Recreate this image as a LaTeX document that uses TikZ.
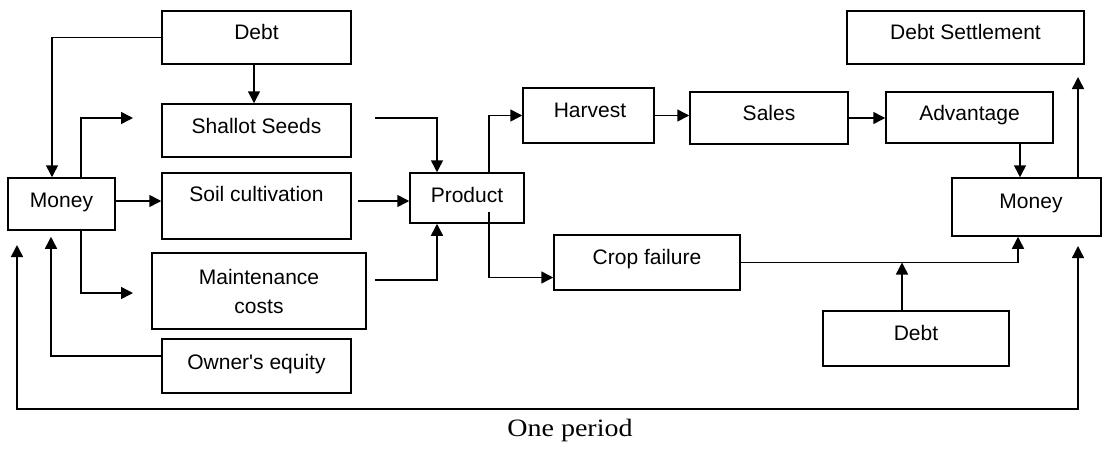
\documentclass[tikz,border=0pt]{standalone}
\usepackage{fontspec}
\setsansfont{Liberation Sans}
\newfontfamily\periodfont{Liberation Serif}
\usetikzlibrary{arrows.meta}
\begin{document}
\begin{tikzpicture}[x=1pt,y=-1pt,
  every node/.style={font=\sffamily\fontsize{21}{29}\selectfont},
  box/.style={draw, line width=1.5pt, inner sep=0pt},
  txt/.style={text height=15pt, text depth=3pt, inner sep=0pt, align=center},
  arr/.style={line width=1.5pt, -{Triangle[length=12pt,width=12pt]}},
  darr/.style={line width=1.5pt, {Triangle[length=12pt,width=12pt]}-{Triangle[length=12pt,width=12pt]}},
  ]
\useasboundingbox (0,0) rectangle (1102,448);

% boxes
\node[box, minimum width=189pt, minimum height=53pt, label={[txt,yshift=4.5pt]center:Debt}] (debt1) at (256.5,37.5) {};
\node[box, minimum width=189pt, minimum height=53pt, label={[txt,yshift=3.5pt]center:Shallot Seeds}] (shallot) at (256.5,130.5) {};
\node[box, minimum width=189pt, minimum height=66pt, label={[txt,yshift=11pt]center:Soil cultivation}] (soil) at (256.5,206) {};
\node[box, minimum width=214pt, minimum height=76pt, label={[align=center,inner sep=0pt]center:{Maintenance\\costs}}] (maint) at (259,291) {};
\node[box, minimum width=189pt, minimum height=54pt, label={[txt,yshift=3pt]center:{Owner\textquotesingle s equity}}] (owner) at (256.5,366) {};
\node[box, minimum width=107pt, minimum height=52pt, label={[txt,yshift=3pt]center:Money}] (moneyL) at (61.5,204) {};
\node[box, minimum width=114pt, minimum height=50pt, label={[txt,yshift=2pt]center:Product}] (product) at (467,198) {};
\node[box, minimum width=131pt, minimum height=55pt, label={[txt,yshift=4.5pt,xshift=1.5pt]center:Harvest}] (harvest) at (588.5,115.5) {};
\node[box, minimum width=158pt, minimum height=52pt, label={[txt,yshift=4pt]center:Sales}] (sales) at (769,118) {};
\node[box, minimum width=167pt, minimum height=51pt, label={[txt,yshift=3.5pt]center:Advantage}] (advantage) at (969.5,117.5) {};
\node[box, minimum width=186pt, minimum height=55pt, label={[txt,yshift=4.5pt]center:Crop failure}] (crop) at (647,262.5) {};
\node[box, minimum width=237pt, minimum height=53pt, label={[txt,yshift=4.5pt]center:Debt Settlement}] (debtS) at (965.5,37.5) {};
\node[box, minimum width=149pt, minimum height=58pt, label={[txt,yshift=5pt,xshift=4.5pt]center:Money}] (moneyR) at (1026.5,207) {};
\node[box, minimum width=186pt, minimum height=55pt, label={[txt,yshift=4.5pt]center:Debt}] (debt2) at (916,338.5) {};

% free ends
\coordinate (s1) at (133,118);
\coordinate (m1) at (133,293);
\coordinate (p1) at (375,118);
\coordinate (p2) at (358,201);
\coordinate (p3) at (375,280);
\coordinate (ds) at (1078,77);
\coordinate (loopL) at (17,245);
\coordinate (loopB) at (550,409);
\coordinate (loopR) at (1078,246);

% connectors, left part
\draw[arr] (debt1.west) -| ([xshift=-9.5pt]moneyL.north);
\draw[arr] ([xshift=-2.5pt]debt1.south) -- ([xshift=-2.5pt]shallot.north);
\draw[arr] ([xshift=19.5pt]moneyL.north) |- (s1);
\draw[arr] ([xshift=19.5pt]moneyL.south) |- (m1);
\draw[arr] ([yshift=3pt]moneyL.east) -- ([yshift=3pt]moneyL.east -| soil.west);
\draw[arr] ([yshift=10pt]owner.west) -| ([xshift=-10.5pt,yshift=-6pt]moneyL.south);

% into product
\draw[arr] (p1) -| ([xshift=-30pt]product.north);
\draw[arr] (p2) -- (p2 -| product.west);
\draw[arr] (p3) -| ([xshift=-30pt]product.south);

% out of product
\draw[arr] ([xshift=22pt]product.north) |- (harvest.west);
\draw[arr] ([xshift=22pt,yshift=-14pt]product.center) |- ([yshift=-15pt]crop.west);

% upper chain
\draw[arr] (harvest.east) -- (harvest.east -| sales.west);
\draw[arr] (sales.east) -- (sales.east -| advantage.west);
\draw[arr] ([xshift=50.5pt]advantage.south) -- ([xshift=50.5pt]advantage.south |- moneyR.north);
\draw[arr] (moneyR.north -| ds) -- (ds);

% lower chain
\draw[arr] (crop.east) -| ([xshift=-8.5pt]moneyR.south);
\draw[arr] ([xshift=-14pt]debt2.north) -- ([xshift=-14pt]debt2.north |- crop.east);

% period loop
\draw[darr] (loopL) |- (loopB) -| (loopR);
\node[font=\periodfont\fontsize{25}{30}\selectfont] (period) at (570,430) {\scalebox{1.12}[1]{One period}};
\end{tikzpicture}
\end{document}
